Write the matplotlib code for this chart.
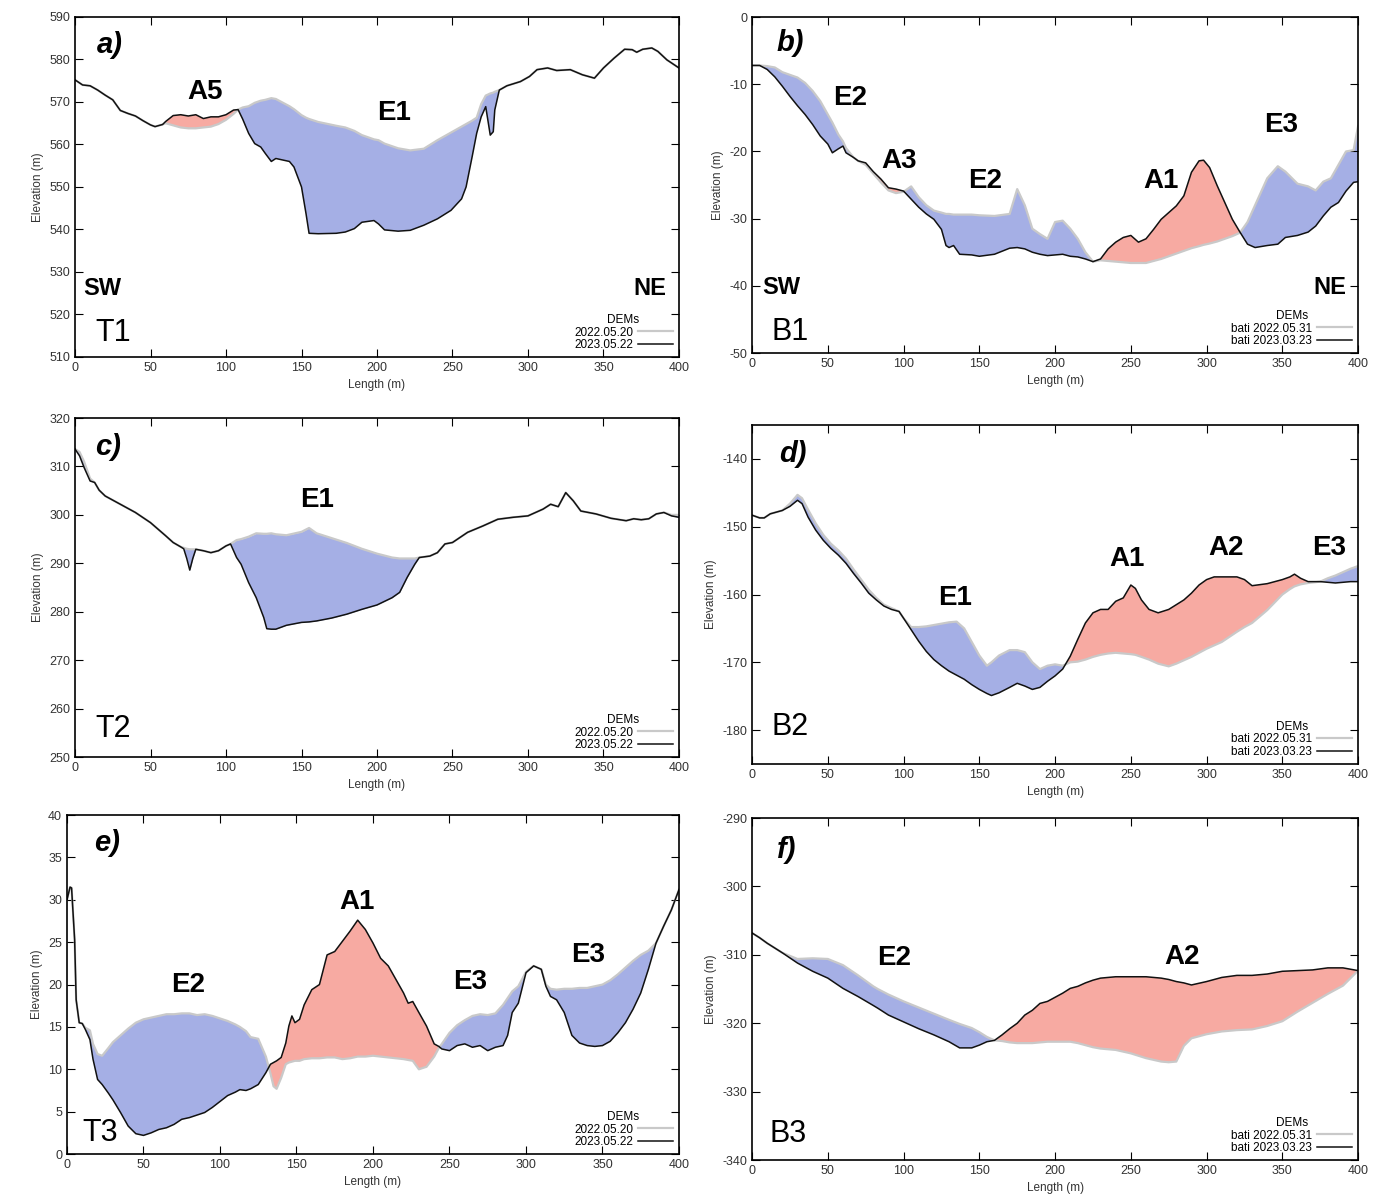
import numpy as np
import matplotlib.pyplot as plt

plt.rcParams['font.family'] = ['Liberation Sans', 'DejaVu Sans']
plt.rcParams['axes.unicode_minus'] = False

# ---- T1 (land profile) ----
xa = [0, 5, 10, 15, 20, 25, 30, 35, 40, 45, 50, 53, 58, 60, 65, 70, 75, 80, 85, 90,
      95, 100, 105, 108, 111, 115, 119, 123, 126, 130, 133, 142, 145, 150, 153, 155, 161, 173, 179, 185,
      190, 198, 201, 205, 214, 222, 231, 240, 249, 256, 259, 263, 266, 269, 272, 275, 277, 278, 281, 286,
      295, 301, 306, 313, 319, 328, 336, 344, 350, 357, 364, 369, 372, 376, 382, 386, 392, 400]
za23 = [575.2, 574.0, 573.8, 572.8, 571.6, 570.5, 568.0, 567.3, 566.7, 565.6,
        564.6, 564.2, 564.7, 565.4, 566.8, 567.0, 566.7, 567.0, 566.1, 566.5,
        566.5, 567.0, 568.1, 568.2, 566.0, 562.6, 560.2, 559.4, 557.9, 556.0,
        556.7, 556.0, 554.7, 550.0, 543.7, 539.1, 539.0, 539.1, 539.4, 540.2,
        541.7, 542.1, 541.3, 539.9, 539.6, 539.8, 541.0, 542.5, 544.5, 547.2,
        550.0, 557.1, 562.6, 566.5, 568.9, 562.2, 563.0, 568.1, 572.8, 573.8,
        574.8, 576.0, 577.6, 578.0, 577.4, 577.6, 576.4, 575.6, 578.0, 580.3,
        582.4, 582.3, 581.7, 582.4, 582.7, 581.9, 579.9, 578.0]
za22 = [575.2, 574.0, 573.8, 572.8, 571.6, 570.5, 568.0, 567.3, 566.7, 565.6,
        564.6, 564.2, 564.7, 565.0, 564.5, 564.0, 563.8, 563.8, 564.0, 564.2,
        564.8, 565.8, 567.2, 568.2, 568.7, 569.0, 569.8, 570.3, 570.5, 570.9,
        570.7, 569.0, 568.3, 566.9, 566.3, 566.0, 565.3, 564.4, 564.0, 563.2,
        562.2, 561.2, 561.0, 560.2, 559.1, 558.6, 559.0, 561.0, 562.8, 564.2,
        564.8, 565.6, 566.3, 569.5, 571.5, 572.0, 572.2, 572.4, 572.8, 573.8,
        574.8, 576.0, 577.6, 578.0, 577.4, 577.6, 576.4, 575.6, 578.0, 580.3,
        582.4, 582.3, 581.7, 582.4, 582.7, 581.9, 579.9, 578.0]

# ---- B1 (bathymetry) ----
xb = [0, 5, 10, 15, 20, 25, 30, 35, 40, 45, 50, 53, 57, 60, 62, 67, 70, 75, 80, 85,
      90, 95, 100, 105, 110, 115, 120, 125, 128, 130, 133, 137, 145, 150, 160, 170, 175, 180, 185, 190,
      195, 200, 205, 210, 215, 220, 225, 230, 235, 240, 245, 250, 255, 260, 265, 270, 275, 280, 285, 290,
      295, 298, 302, 307, 312, 317, 322, 327, 332, 340, 347, 352, 360, 367, 372, 377, 382, 387, 392, 397, 400]
zb23 = [-7.2, -7.2, -7.8, -8.9, -10.3, -11.8, -13.2, -14.5, -16.0, -17.7,
        -18.9, -20.2, -19.6, -19.2, -20.2, -20.9, -21.4, -21.7, -23.0, -24.1,
        -25.4, -25.6, -25.9, -27.1, -28.3, -29.3, -30.1, -31.6, -34.0, -34.3,
        -34.0, -35.3, -35.4, -35.6, -35.3, -34.4, -34.3, -34.5, -35.0, -35.3,
        -35.5, -35.4, -35.3, -35.6, -35.7, -36.0, -36.4, -36.0, -34.5, -33.5,
        -32.8, -32.5, -33.5, -33.0, -31.6, -30.1, -29.1, -28.1, -26.6, -23.1,
        -21.4, -21.3, -22.4, -25.1, -27.6, -30.1, -32.0, -33.8, -34.3, -34.0,
        -33.8, -32.8, -32.5, -32.0, -31.1, -29.6, -28.3, -27.6, -25.9, -24.6, -24.5]
zb22 = [-7.2, -7.2, -7.3, -7.5, -8.2, -8.6, -9.0, -9.8, -11.0, -12.5,
        -14.5, -15.7, -17.5, -18.5, -19.5, -20.9, -21.4, -22.0, -23.3, -24.6,
        -25.8, -26.2, -26.0, -25.2, -26.8, -28.0, -28.8, -29.1, -29.3, -29.3,
        -29.4, -29.4, -29.4, -29.5, -29.6, -29.3, -25.6, -28.0, -31.5, -32.3,
        -33.0, -30.5, -30.3, -31.5, -33.0, -35.0, -36.4, -36.2, -36.3, -36.4,
        -36.5, -36.6, -36.6, -36.6, -36.3, -36.0, -35.6, -35.2, -34.8, -34.4,
        -34.1, -33.9, -33.7, -33.4, -33.0, -32.6, -32.1, -30.5, -28.0, -24.0,
        -22.2, -23.0, -24.8, -25.2, -25.8, -24.5, -24.0, -22.0, -20.0, -19.8, -16.2]

# ---- T2 ----
xc = [0, 3, 6, 10, 13, 16, 20, 30, 40, 50, 60, 65, 70, 72, 74, 76, 78, 80, 85, 90,
      95, 100, 103, 107, 110, 115, 120, 125, 127, 130, 133, 140, 150, 155, 160, 170, 180, 190, 200, 210,
      215, 220, 225, 228, 235, 240, 245, 250, 260, 270, 280, 290, 300, 310, 315, 320, 325, 330, 335, 345,
      355, 365, 370, 375, 380, 385, 390, 395, 400]
zc23 = [313.6, 312.2, 309.8, 307.0, 306.7, 305.1, 303.9, 302.2, 300.5, 298.4,
        295.7, 294.3, 293.4, 293.0, 291.0, 288.6, 291.0, 292.9, 292.6, 292.2,
        292.6, 293.6, 294.0, 291.2, 289.8, 286.0, 282.9, 278.8, 276.5, 276.4,
        276.4, 277.2, 277.8, 277.9, 278.1, 278.7, 279.5, 280.5, 281.4, 282.9,
        284.0, 287.1, 289.8, 291.2, 291.5, 292.2, 294.0, 294.3, 296.4, 297.7,
        299.1, 299.5, 299.8, 301.2, 302.2, 301.7, 304.6, 302.9, 300.8, 300.2,
        299.3, 298.8, 299.2, 299.0, 299.2, 300.2, 300.5, 299.8, 299.5]
zc22 = [313.6, 313.0, 311.0, 307.5, 306.7, 305.1, 303.9, 302.2, 300.5, 298.4,
        295.7, 294.3, 293.4, 293.2, 293.0, 292.9, 292.9, 292.9, 292.6, 292.2,
        292.6, 293.6, 294.0, 294.8, 295.0, 295.5, 296.2, 296.1, 296.1, 296.2,
        296.0, 295.8, 296.5, 297.3, 296.2, 295.2, 294.2, 293.0, 292.0, 291.2,
        291.0, 291.0, 291.0, 291.2, 291.5, 292.2, 294.0, 294.3, 296.4, 297.7,
        299.1, 299.5, 299.8, 301.2, 302.2, 301.7, 304.6, 302.9, 300.8, 300.2,
        299.3, 298.8, 299.2, 299.0, 299.2, 300.2, 300.5, 300.0, 300.0]

# ---- B2 ----
xd = [0, 5, 8, 12, 20, 25, 30, 33, 37, 42, 47, 52, 57, 62, 67, 72, 77, 82, 87, 92,
      97, 100, 105, 110, 115, 120, 125, 130, 135, 140, 145, 150, 155, 158, 163, 170, 175, 180, 185, 190,
      195, 200, 205, 210, 215, 220, 225, 230, 235, 240, 245, 250, 253, 257, 262, 268, 275, 280, 285, 290,
      295, 300, 305, 310, 320, 325, 330, 340, 350, 355, 358, 362, 367, 375, 380, 385, 390, 395, 400]
zd23 = [-148.3, -148.7, -148.7, -148.1, -147.6, -147.0, -146.1, -146.6, -148.6, -150.5,
        -152.0, -153.2, -154.2, -155.4, -156.9, -158.3, -159.8, -160.8, -161.7, -162.2,
        -162.5, -163.5, -165.2, -166.9, -168.4, -169.6, -170.5, -171.3, -171.9, -172.5,
        -173.3, -174.0, -174.6, -174.9, -174.5, -173.7, -173.1, -173.5, -174.0, -173.7,
        -172.8, -172.0, -171.0, -169.1, -166.6, -164.2, -162.7, -162.2, -162.2, -161.0,
        -160.5, -158.6, -159.1, -160.8, -162.2, -162.7, -162.2, -161.5, -160.8, -159.8,
        -158.6, -157.8, -157.4, -157.4, -157.4, -157.8, -158.7, -158.4, -157.8, -157.4,
        -157.0, -157.6, -158.1, -158.1, -158.2, -158.3, -158.2, -158.1, -158.1]
zd22 = [-148.3, -148.7, -148.7, -148.1, -147.6, -146.6, -145.3, -145.8, -147.5, -149.5,
        -151.2, -152.5, -153.5, -154.7, -156.3, -157.8, -159.3, -160.5, -161.5, -162.0,
        -162.5, -163.5, -164.8, -164.8, -164.7, -164.5, -164.3, -164.1, -164.0, -165.0,
        -167.0, -169.0, -170.5, -170.0, -169.0, -168.2, -168.2, -168.5, -170.0, -171.0,
        -170.5, -170.3, -170.5, -170.0, -169.9, -169.6, -169.2, -168.9, -168.7, -168.6,
        -168.7, -168.8, -168.9, -169.2, -169.6, -170.2, -170.6, -170.2, -169.7, -169.2,
        -168.6, -168.0, -167.5, -167.0, -165.5, -164.8, -164.2, -162.3, -160.0, -159.2,
        -158.8, -158.5, -158.3, -158.1, -157.6, -157.2, -156.7, -156.2, -155.8]

# ---- T3 ----
xe = [0, 2, 3, 5, 6, 8, 10, 12, 15, 17, 20, 23, 27, 30, 35, 40, 45, 50, 55, 60,
      65, 70, 75, 80, 85, 90, 95, 100, 105, 110, 113, 117, 120, 125, 130, 133, 135, 137, 140, 143,
      145, 147, 149, 152, 155, 160, 165, 170, 175, 180, 185, 190, 195, 200, 205, 210, 215, 220, 223, 226,
      230, 235, 240, 243, 245, 250, 255, 260, 265, 270, 275, 280, 285, 288, 291, 295, 300, 305, 310, 313,
      316, 320, 325, 330, 335, 340, 345, 350, 355, 360, 365, 370, 375, 380, 385, 390, 395, 400]
ze23 = [30.0, 31.5, 31.4, 25.3, 18.2, 15.5, 15.4, 14.7, 13.5, 11.2,
        8.8, 8.2, 7.2, 6.4, 4.9, 3.3, 2.4, 2.2, 2.5, 2.9,
        3.1, 3.5, 4.1, 4.3, 4.6, 4.9, 5.5, 6.2, 6.9, 7.3,
        7.6, 7.5, 7.7, 8.2, 9.6, 10.6, 10.8, 11.0, 11.4, 13.1,
        15.1, 16.3, 15.5, 15.9, 17.6, 19.4, 20.0, 23.5, 23.9, 25.1,
        26.3, 27.6, 26.5, 24.9, 23.1, 22.2, 20.6, 19.0, 17.8, 18.0,
        16.7, 15.1, 13.0, 12.7, 12.4, 12.2, 12.8, 13.0, 12.6, 12.8,
        12.2, 12.6, 12.8, 14.0, 16.7, 17.8, 21.4, 22.2, 21.8, 19.8,
        18.6, 18.2, 16.7, 14.0, 13.1, 12.8, 12.7, 12.8, 13.3, 14.3,
        15.5, 17.1, 19.0, 21.8, 24.9, 26.9, 28.8, 31.2]
ze22 = [30.0, 31.5, 31.4, 25.3, 18.2, 15.5, 15.4, 14.9, 14.6, 13.0,
        11.8, 11.6, 12.5, 13.2, 14.0, 14.8, 15.5, 15.9, 16.1, 16.3,
        16.5, 16.5, 16.6, 16.6, 16.4, 16.5, 16.3, 16.0, 15.7, 15.3,
        15.0, 14.5, 13.8, 13.6, 11.5, 9.5, 8.0, 7.7, 9.0, 10.6,
        10.8, 10.9, 11.0, 11.0, 11.2, 11.3, 11.3, 11.4, 11.4, 11.2,
        11.3, 11.5, 11.5, 11.6, 11.5, 11.4, 11.3, 11.2, 11.1, 11.0,
        10.0, 10.3, 11.5, 12.5, 13.0, 14.3, 15.2, 15.8, 16.3, 16.5,
        16.4, 16.6, 17.6, 18.4, 19.2, 19.8, 21.5, 22.2, 21.8, 20.0,
        19.5, 19.4, 19.5, 19.5, 19.6, 19.6, 19.8, 20.0, 20.5, 21.2,
        22.0, 22.8, 23.5, 24.0, 24.9, 26.9, 28.8, 31.2]

# ---- B3 ----
xf = [0, 5, 10, 20, 30, 40, 50, 60, 70, 80, 83, 90, 100, 110, 120, 130, 137, 145, 150, 155,
      160, 165, 170, 175, 180, 185, 190, 195, 200, 205, 210, 215, 220, 225, 230, 240, 250, 260, 270, 275,
      280, 285, 290, 300, 310, 320, 330, 340, 350, 360, 370, 380, 390, 400]
zf23 = [-306.8, -307.5, -308.3, -309.7, -311.2, -312.4, -313.4, -314.9, -316.1, -317.4,
        -317.8, -318.8, -319.8, -320.8, -321.7, -322.7, -323.6, -323.6, -323.2, -322.7,
        -322.5, -321.7, -320.8, -320.0, -318.8, -318.1, -317.1, -316.8, -316.2, -315.6,
        -314.9, -314.6, -314.1, -313.7, -313.4, -313.2, -313.2, -313.2, -313.4, -313.6,
        -313.9, -314.1, -314.4, -313.9, -313.3, -313.0, -313.0, -312.8, -312.4, -312.3,
        -312.2, -311.9, -311.9, -312.3]
zf22 = [-306.8, -307.5, -308.3, -309.7, -310.6, -310.5, -310.6, -311.5, -313.0, -314.6,
        -315.0, -315.8, -316.8, -317.7, -318.6, -319.5, -320.1, -320.7, -321.3, -322.0,
        -322.5, -322.6, -322.8, -322.9, -322.9, -322.9, -322.8, -322.7, -322.7, -322.7,
        -322.7, -322.9, -323.2, -323.5, -323.7, -323.9, -324.4, -325.1, -325.6, -325.7,
        -325.6, -323.3, -322.2, -321.6, -321.2, -321.0, -320.9, -320.4, -319.7, -318.3,
        -317.0, -315.7, -314.5, -312.3]

land_labels = ['2022.05.20', '2023.05.22']
sea_labels = ['bati 2022.05.31', 'bati 2023.03.23']

BLUE = '#a5afe5'
RED = '#f7aaa2'

fig = plt.figure(figsize=(13.84, 12.02), dpi=100)


def panel(rect, x, z22, z23, ylim, yticks, labs, tags, letter, name, sw=None):
    ax = fig.add_axes(rect)
    x = np.array(x, dtype=float)
    a = np.array(z22)
    b = np.array(z23)
    ax.fill_between(x, a, b, where=b <= a, interpolate=True, color=BLUE, lw=0)
    ax.fill_between(x, a, b, where=b >= a, interpolate=True, color=RED, lw=0)
    ax.plot(x, a, color='#c9c9c9', lw=1.6, label=labs[0])
    ax.plot(x, b, color='#111111', lw=1.1, label=labs[1])
    ax.set_xlim(0, 400)
    ax.set_ylim(*ylim)
    ax.set_xticks(range(0, 401, 50))
    ax.set_yticks(yticks)
    ax.tick_params(direction='in', top=True, right=True, length=6, labelsize=9,
                   width=0.8, labelcolor='#333333')
    for s in ax.spines.values():
        s.set_linewidth(1.2)
    ax.set_xlabel('Length (m)', fontsize=8.5, labelpad=4, color='#333333')
    ax.set_ylabel('Elevation (m)', fontsize=8.5, labelpad=4, color='#333333')
    for t, tx, ty in tags:
        ax.text(tx, ty, t, fontsize=20, fontweight='bold', ha='center', va='center')
    ax.text(letter[1], letter[2], letter[0], fontsize=21, fontweight='bold',
            style='italic', ha='center', va='center')
    ax.text(name[1], name[2], name[0], fontsize=22, ha='center', va='center')
    if sw:
        ax.text(sw[0], sw[2], 'SW', fontsize=17, fontweight='bold', ha='center', va='center')
        ax.text(sw[1], sw[2], 'NE', fontsize=17, fontweight='bold', ha='center', va='center')
    leg = ax.legend(title='DEMs', loc='lower right', frameon=False, markerfirst=False,
                    fontsize=8.5, title_fontsize=8.5, handlelength=3.0, labelspacing=0.05,
                    borderaxespad=0.3, handletextpad=0.4, borderpad=0.2)
    leg._legend_box.align = 'center'
    return ax


panel([0.0542, 0.7030, 0.4364, 0.2829], xa, za22, za23, (510, 590), range(510, 591, 10),
      land_labels, [('A5', 86, 572.4), ('E1', 211, 567.4)], ('a)', 23, 583.4), ('T1', 25, 515.6),
      sw=(18, 381, 526))
panel([0.5434, 0.7063, 0.4379, 0.2795], xb, zb22, zb23, (-50, 0), range(-50, 1, 10),
      sea_labels, [('E2', 65, -12), ('A3', 97, -21.4), ('E2', 154, -24.4), ('A1', 270, -24.4),
                   ('E3', 349, -16)], ('b)', 25, -3.9), ('B1', 25, -46.8), sw=(19.5, 381, -40.2))
panel([0.0542, 0.3702, 0.4364, 0.2820], xc, zc22, zc23, (250, 320), range(250, 321, 10),
      land_labels, [('E1', 160, 303)], ('c)', 22, 314), ('T2', 25, 255.8))
panel([0.5434, 0.3644, 0.4379, 0.2820], xd, zd22, zd23, (-185, -135), range(-180, -139, 10),
      sea_labels, [('E1', 134, -160.5), ('A1', 247.5, -154.8), ('A2', 313, -153.2),
                   ('E3', 381, -153.2)], ('d)', 27, -139.3), ('B2', 25, -179.5))
panel([0.0484, 0.0399, 0.4422, 0.2820], xe, ze22, ze23, (0, 40), range(0, 41, 5),
      land_labels, [('E2', 79, 19.9), ('A1', 189.5, 29.7), ('E3', 263.5, 20.3), ('E3', 340.5, 23.5)],
      ('e)', 26, 36.7), ('T3', 22, 2.5))
panel([0.5434, 0.0349, 0.4379, 0.2845], xf, zf22, zf23, (-340, -290), range(-340, -289, 10),
      sea_labels, [('E2', 93.5, -310.5), ('A2', 284, -310.3)], ('f)', 23, -294.6), ('B3', 24, -336.2))

fig.savefig('out.png', dpi=100)
